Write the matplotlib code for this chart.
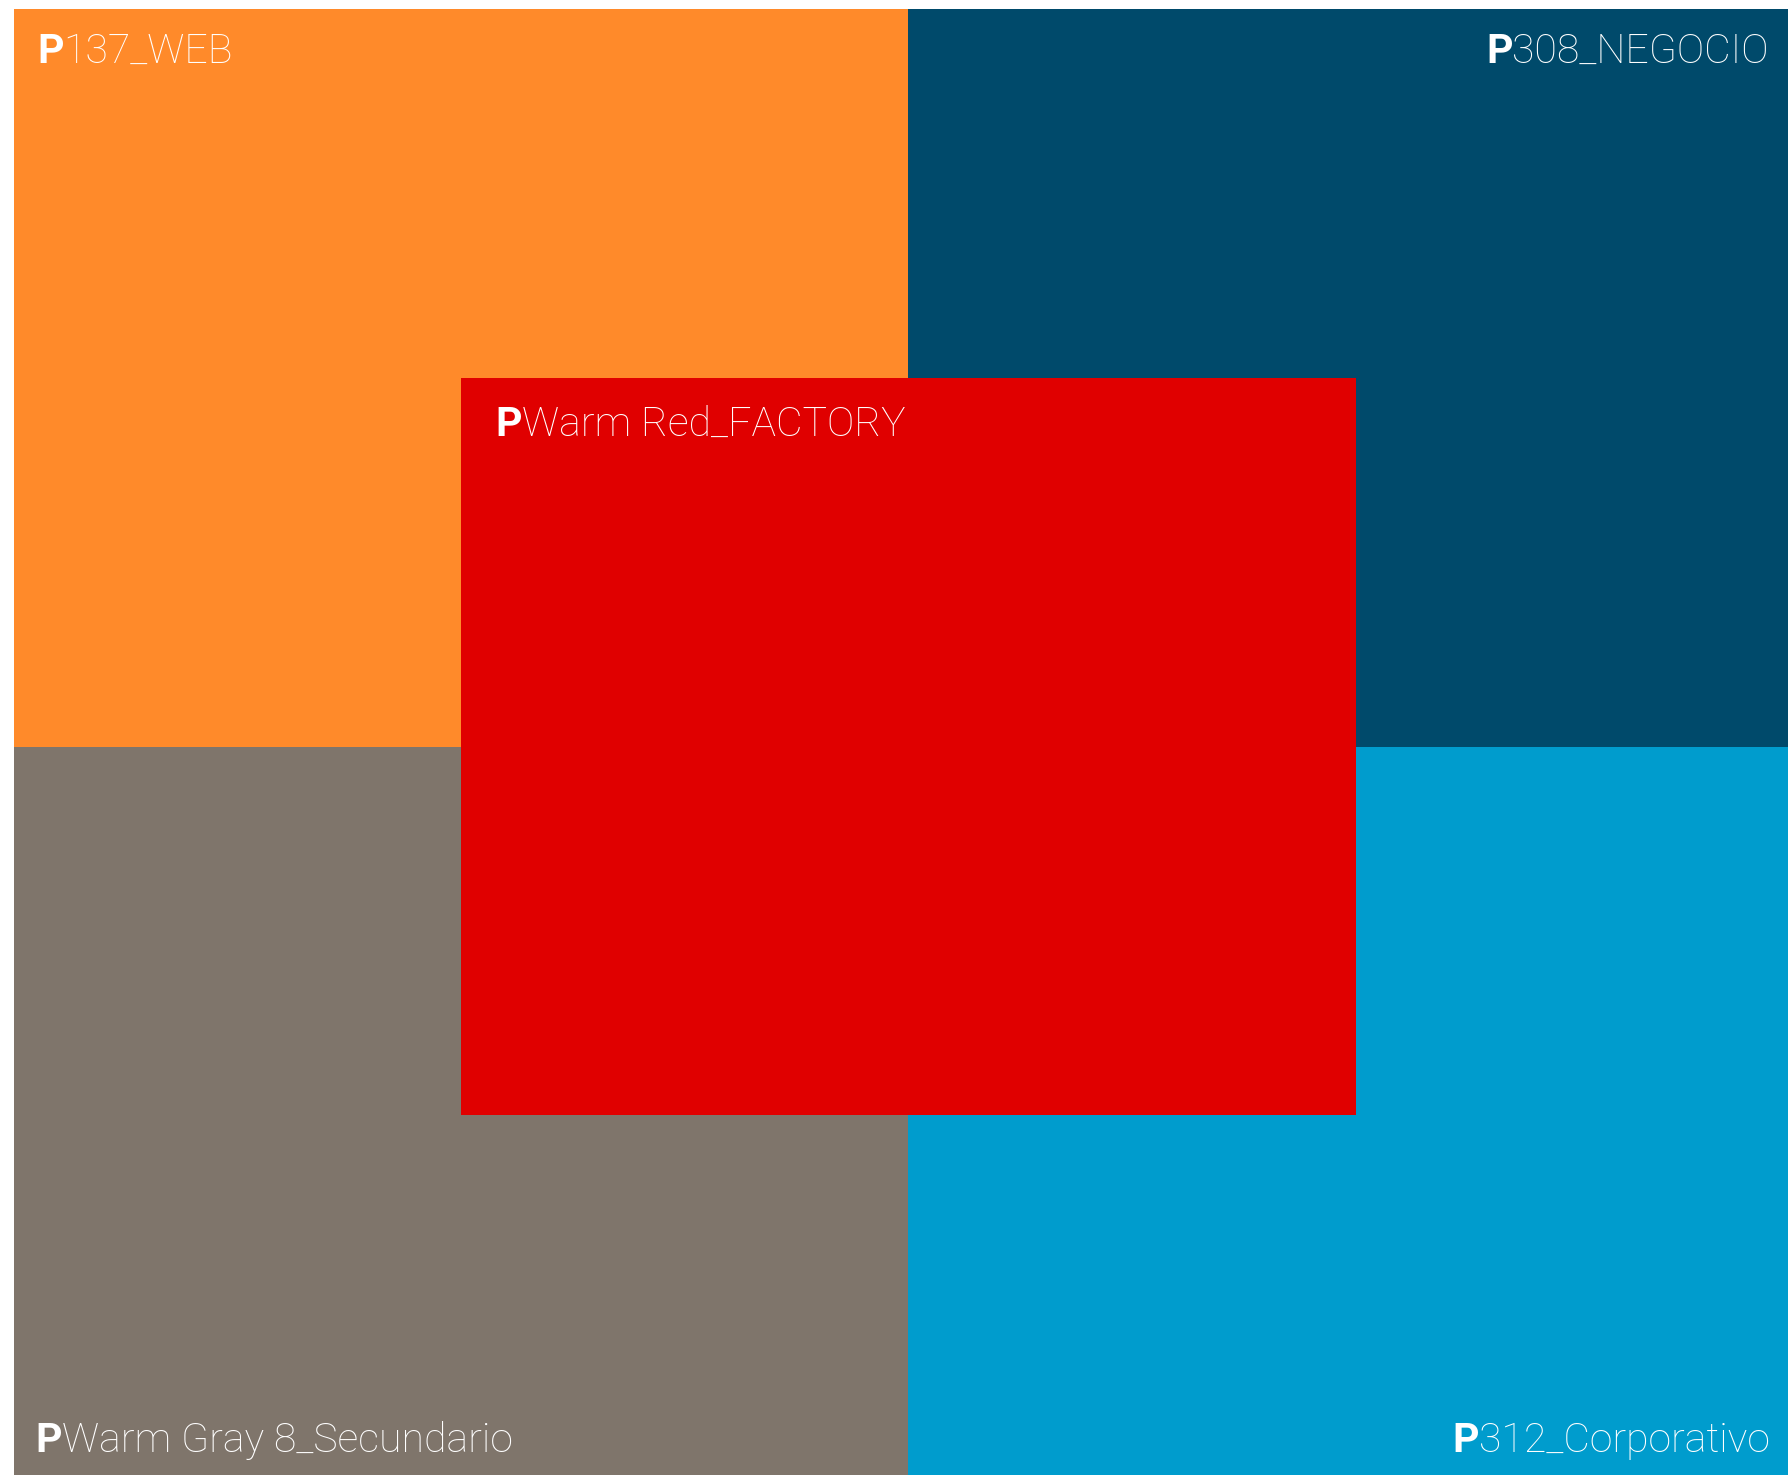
import matplotlib.pyplot as plt

# swatch layout in the original image's pixel space
labels = ["137_WEB", "308_NEGOCIO", "Warm Gray 8_Secundario", "312_Corporativo", "Warm Red_FACTORY"]
colors = ["#FF8A2A", "#004A6B", "#7F756B", "#009CCD", "#E00000"]
x0 = [14, 908, 14, 908, 461]
x1 = [908, 1788, 908, 1788, 1356]
y0 = [9, 9, 747, 747, 378]
y1 = [747, 747, 1475, 1475, 1115]

# label anchors: (x, baseline y, alignment)
label_x = [37, 1769, 35, 1770, 495]
label_y = [63, 63, 1452, 1452, 436]
label_ha = ["left", "right", "left", "right", "left"]

FONT = "Roboto"
SIZE = 29.5

fig = plt.figure(figsize=(17.88, 14.75), dpi=100)
ax = fig.add_axes([0, 0, 1, 1])
ax.set_xlim(0, 1788)
ax.set_ylim(1475, 0)
ax.axis("off")
renderer = fig.canvas.get_renderer()


def draw_label(x, y, text, ha):
    kw = dict(color="white", fontsize=SIZE, family=FONT, va="baseline")
    if ha == "left":
        p = ax.text(x, y, "P", fontweight="bold", ha="left", **kw)
        w = p.get_window_extent(renderer).width
        ax.text(x + w, y, text, ha="left", fontweight="light", **kw)
    else:
        rest = ax.text(x, y, text, ha="right", fontweight="light", **kw)
        w = rest.get_window_extent(renderer).width
        ax.text(x - w, y, "P", fontweight="bold", ha="right", **kw)


for i in range(len(labels)):
    ax.bar(x0[i], y1[i] - y0[i], width=x1[i] - x0[i], bottom=y0[i],
           align="edge", color=colors[i], linewidth=0)
    draw_label(label_x[i], label_y[i], labels[i], label_ha[i])

fig.savefig("out.png", dpi=100, facecolor="white")
